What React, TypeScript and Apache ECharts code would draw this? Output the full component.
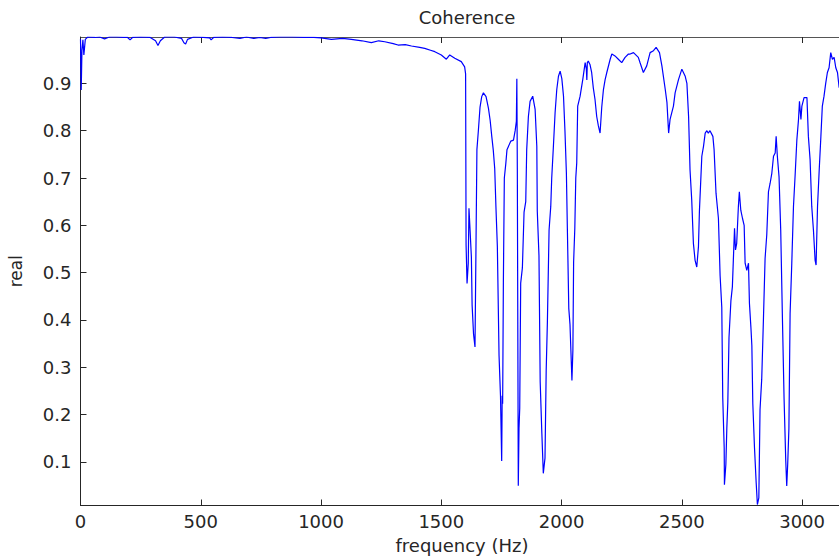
import React, { useEffect, useRef } from "react";
import * as echarts from "echarts";

const freqHz = [
  0, 3, 6, 10, 14, 20, 30, 60, 80, 100, 120, 150, 180, 196, 206, 216, 250, 290, 312, 322, 332, 350, 390, 420, 430, 437, 445, 470, 510, 537, 543, 553, 590, 630, 663, 690, 720, 745, 770, 790, 830, 880, 930, 970,
  1000, 1043, 1090, 1126, 1170, 1209, 1240, 1265, 1300, 1320, 1350, 1376, 1410, 1431, 1455, 1473, 1500, 1521, 1535, 1556, 1583, 1597, 1601,
  1603, 1607, 1612, 1615, 1620, 1625, 1628, 1634, 1640, 1644, 1648, 1654, 1661, 1668, 1675, 1686, 1696, 1703, 1710, 1716, 1722, 1727, 1733, 1740, 1746, 1751, 1753, 1755, 1758, 1762, 1768, 1773, 1789, 1800, 1807, 1812, 1814, 1816, 1820, 1823, 1826, 1830, 1837, 1844, 1851, 1855, 1862, 1869, 1880, 1890, 1897, 1899,
  1906, 1911, 1918, 1924, 1931, 1936, 1941, 1948, 1955, 1959, 1966, 1973, 1980, 1987, 1994, 2001, 2008, 2014, 2020, 2024, 2030, 2035, 2043, 2047, 2050, 2055, 2059, 2063, 2067, 2077, 2088, 2098, 2103, 2105, 2107, 2111, 2118, 2125, 2132, 2139, 2146, 2153, 2160, 2167, 2174, 2181, 2188, 2202, 2209, 2222, 2236, 2250, 2264, 2278, 2285, 2299, 2319, 2326, 2340, 2354, 2368, 2382, 2393, 2407, 2417, 2431, 2438, 2445, 2451, 2465, 2472, 2486,
  2500, 2514, 2521, 2528, 2534, 2541, 2548, 2555, 2562, 2569, 2573, 2583, 2590, 2597, 2604, 2610, 2617, 2629, 2634, 2642, 2652, 2659, 2666, 2670, 2676, 2677, 2683, 2687, 2691, 2696, 2704, 2710, 2714, 2719, 2723, 2728, 2735, 2739, 2745, 2752, 2759, 2763, 2770, 2777, 2781, 2787, 2791, 2795, 2802, 2809, 2814, 2820, 2825, 2832, 2839, 2846, 2853, 2860, 2867, 2874, 2881, 2888, 2892, 2897, 2904, 2911, 2918, 2925, 2932, 2936, 2940, 2945, 2950, 2957, 2964, 2971, 2978, 2985, 2989, 2995, 2999,
  3008, 3020, 3026, 3033, 3040, 3047, 3054, 3058, 3064, 3071, 3078, 3084, 3091, 3098, 3105, 3112, 3119, 3126, 3133, 3140, 3147, 3154,
];

const coherence = [
  0.993, 0.886, 0.97, 0.992, 0.96, 0.993, 0.998, 0.997, 0.998, 0.994, 0.998, 0.998, 0.997, 0.997, 0.992, 0.997, 0.998, 0.997, 0.99, 0.98, 0.99, 0.998, 0.998, 0.995, 0.986, 0.983, 0.993, 0.998, 0.997, 0.996, 0.992, 0.997, 0.998, 0.997, 0.995, 0.998, 0.995, 0.997, 0.995, 0.997, 0.998, 0.998, 0.997, 0.997,
  0.996, 0.993, 0.995, 0.993, 0.99, 0.986, 0.99, 0.988, 0.984, 0.981, 0.982, 0.979, 0.976, 0.974, 0.97, 0.967, 0.96, 0.951, 0.96, 0.953, 0.946, 0.935, 0.92,
  0.558, 0.477, 0.52, 0.636, 0.585, 0.533, 0.432, 0.37, 0.343, 0.548, 0.76, 0.8, 0.85, 0.872, 0.88, 0.872, 0.847, 0.822, 0.787, 0.759, 0.72, 0.64, 0.555, 0.325, 0.24, 0.102, 0.24, 0.223, 0.48, 0.7, 0.73, 0.76, 0.778, 0.78, 0.8, 0.82, 0.91, 0.72, 0.05, 0.17, 0.214, 0.478, 0.51, 0.628, 0.65, 0.76, 0.83, 0.862, 0.873, 0.845, 0.767, 0.63,
  0.536, 0.27, 0.16, 0.076, 0.108, 0.294, 0.396, 0.59, 0.64, 0.7, 0.767, 0.838, 0.887, 0.915, 0.926, 0.91, 0.873, 0.8, 0.71, 0.594, 0.424, 0.39, 0.272, 0.336, 0.522, 0.594, 0.7, 0.732, 0.852, 0.873, 0.908, 0.944, 0.93, 0.907, 0.944, 0.947, 0.94, 0.923, 0.89, 0.866, 0.83, 0.81, 0.795, 0.85, 0.887, 0.908, 0.923, 0.951, 0.962, 0.958, 0.951, 0.944, 0.955, 0.962, 0.962, 0.965, 0.955, 0.944, 0.923, 0.937, 0.965, 0.969, 0.976, 0.965, 0.937, 0.887, 0.86, 0.795, 0.824, 0.852, 0.88, 0.908,
  0.93, 0.915, 0.9, 0.83, 0.717, 0.654, 0.562, 0.526, 0.512, 0.555, 0.63, 0.746, 0.767, 0.795, 0.8, 0.795, 0.8, 0.788, 0.76, 0.668, 0.615, 0.494, 0.427, 0.236, 0.13, 0.052, 0.095, 0.172, 0.225, 0.363, 0.441, 0.47, 0.526, 0.594, 0.548, 0.562, 0.64, 0.671, 0.632, 0.615, 0.6, 0.52, 0.505, 0.52, 0.435, 0.385, 0.346, 0.223, 0.13, 0.056, 0.01, 0.024, 0.211, 0.275, 0.399, 0.53, 0.58, 0.671, 0.689, 0.71, 0.746, 0.753, 0.788, 0.746, 0.703, 0.59, 0.406, 0.233, 0.102, 0.049, 0.095, 0.17, 0.414, 0.52, 0.64, 0.707, 0.78, 0.824, 0.862, 0.824, 0.852,
  0.87, 0.87, 0.788, 0.74, 0.64, 0.59, 0.526, 0.516, 0.64, 0.717, 0.788, 0.852, 0.873, 0.9, 0.923, 0.933, 0.965, 0.951, 0.955, 0.933, 0.923, 0.891,
];

const yTicks = [0.1, 0.2, 0.3, 0.4, 0.5, 0.6, 0.7, 0.8, 0.9];

const titleText = "Coherence";
const xName = "frequency (Hz)";
const yName = "real";

export default function App() {
  const ref = useRef<HTMLDivElement>(null);
  useEffect(() => {
    if (!ref.current) return;
    const chart = echarts.init(ref.current, null, { renderer: "svg" });
    const font = "DejaVu Sans";
    const textColor = "#262626";
    const axisColor = "#262626";
    chart.setOption({
      animation: false,
      backgroundColor: "#ffffff",
      title: {
        text: titleText,
        left: 462,
        top: 3,
        textAlign: "center",
        textStyle: { fontFamily: font, fontSize: 18, fontWeight: "normal", color: textColor },
      },
      grid: {
        left: 80.5,
        top: 37,
        width: 763,
        height: 468.5,
        containLabel: false,
        outerBoundsMode: "none",
      },
      xAxis: [
        {
          type: "value",
          min: 0,
          max: 3172,
          interval: 500,
          position: "bottom",
          name: xName,
          nameLocation: "middle",
          nameGap: 31,
          nameTextStyle: { fontFamily: font, fontSize: 18, color: textColor },
          axisLine: { show: true, lineStyle: { color: axisColor, width: 1 } },
          axisTick: { show: true, inside: true, length: 6, lineStyle: { color: axisColor } },
          axisLabel: {
            fontFamily: font,
            fontSize: 18,
            color: textColor,
            margin: 7,
            showMaxLabel: false,
            formatter: (v: number) => String(v),
          },
          splitLine: { show: false },
        },
        {
          type: "value",
          min: 0,
          max: 3172,
          interval: 500,
          position: "top",
          axisLine: { show: true, lineStyle: { color: "#555", width: 1 } },
          axisTick: { show: true, inside: true, length: 6, lineStyle: { color: axisColor } },
          axisLabel: { show: false },
          splitLine: { show: false },
        },
      ],
      yAxis: {
        type: "value",
        min: 0.008,
        max: 0.998,
        name: yName,
        nameLocation: "middle",
        nameRotate: 90,
        nameGap: 56,
        nameTextStyle: { fontFamily: font, fontSize: 17, color: textColor },
        axisLine: { show: true, lineStyle: { color: axisColor, width: 1 } },
        axisTick: { show: true, inside: true, length: 6, customValues: yTicks, lineStyle: { color: axisColor } },
        axisLabel: {
          fontFamily: font,
          fontSize: 18,
          color: textColor,
          margin: 9,
          customValues: yTicks,
          formatter: (v: number) => v.toFixed(1),
        },
        splitLine: { show: false },
      },
      series: [
        {
          type: "line",
          data: freqHz.map((f, i) => [f, coherence[i]]),
          showSymbol: false,
          symbol: "none",
          lineStyle: { color: "#0000ff", width: 1.2 },
          clip: true,
        },
      ],
    });
    return () => chart.dispose();
  }, []);
  return (
    <div
      ref={ref}
      style={{ position: "fixed", left: 0, top: 0, width: 839, height: 556, background: "#fff" }}
    />
  );
}
